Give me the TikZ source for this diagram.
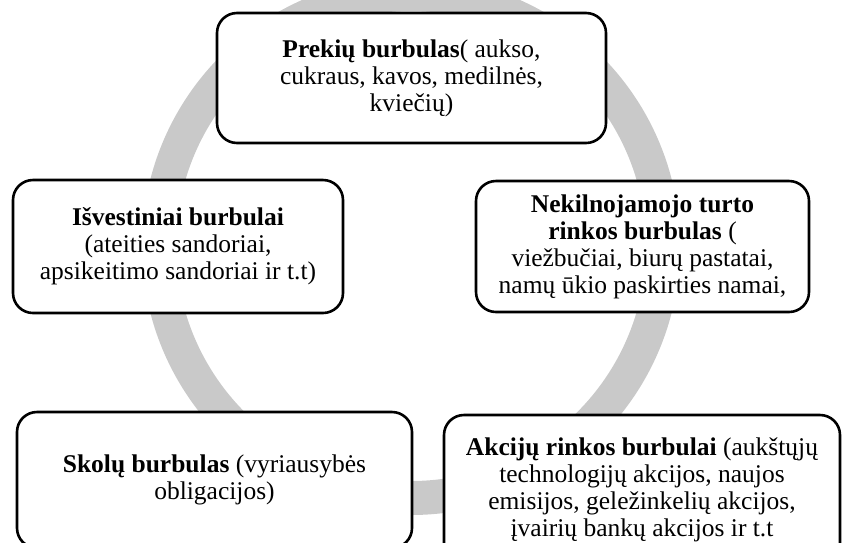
\documentclass[tikz,border=0pt]{standalone}
\usepackage{fontspec}
\setmainfont{Liberation Serif}
\usepackage{xcolor}
\usepackage{tikz}
\definecolor{ringgray}{HTML}{C9C9C9}

\begin{document}
\begin{tikzpicture}[x=1pt,y=-1pt,
  bub/.style={rounded corners=20pt,draw=black,line width=2.6pt,fill=white,align=center,font=\fontsize{25.5}{27}\selectfont,inner sep=0pt}]
  \useasboundingbox (0,0) rectangle (842,542);
  % ring behind the boxes
  \draw[ringgray,line width=34pt] (411,246) circle (252pt);
  \node[bub,minimum width=389pt,minimum height=130pt] (prekes) at (411.5,78) {\textbf{Prekių burbulas}( aukso,\\cukraus, kavos, medilnės,\\kviečių)};
  \node[bub,minimum width=333pt,minimum height=131pt] (turtas) at (642.5,246.5) {\textbf{Nekilnojamojo turto}\\\textbf{rinkos burbulas} (\\viežbučiai, biurų pastatai,\\namų ūkio paskirties namai,};
  \node[bub,minimum width=330pt,minimum height=133pt] (isvest) at (178,246.5) {\textbf{Išvestiniai burbulai}\\(ateities sandoriai,\\apsikeitimo sandoriai ir t.t)};
  \node[bub,minimum width=395pt,minimum height=136pt] (skolos) at (214.5,480) {\textbf{Skolų burbulas} (vyriausybės\\obligacijos)};
  \node[bub,minimum width=396pt,minimum height=150pt] (akcijos) at (642,490) {\textbf{Akcijų rinkos burbulai} (aukštųjų\\technologijų akcijos, naujos\\emisijos, geležinkelių akcijos,\\įvairių bankų akcijos ir t.t};
\end{tikzpicture}
\end{document}
